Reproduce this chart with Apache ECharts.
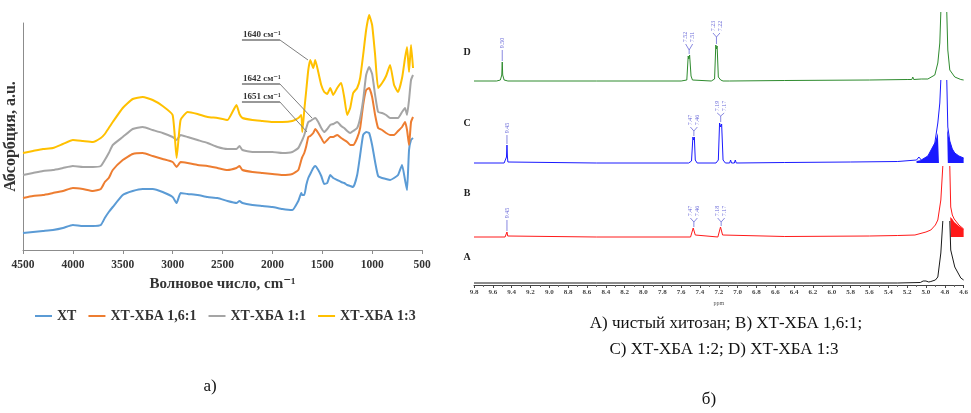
<!DOCTYPE html>
<html lang="ru">
<head>
<meta charset="utf-8">
<title>ИК и ЯМР спектры</title>
<script src="https://cdn.jsdelivr.net/npm/echarts@6.0.0/dist/echarts.min.js"></script>
<style>
  html, body { margin: 0; padding: 0; background: #fff; }
  #chart { width: 971px; height: 413px; }
</style>
</head>
<body>
<div id="chart"></div>
<script>
// а) ИК-спектры, волновое число (см-1) и поглощение (усл. ед.)
var wavenumbers = [4500, 4400, 4300, 4200, 4100, 4000, 3900, 3800, 3720, 3680, 3640, 3600,
  3500, 3400, 3300, 3200, 3100, 3000, 2960, 2920, 2850, 2750, 2650, 2550, 2450, 2360, 2330, 2300,
  2200, 2100, 2000, 1900, 1800, 1740, 1710, 1700, 1680, 1660, 1640, 1620, 1590, 1570, 1540, 1510,
  1480, 1450, 1420, 1390, 1350, 1310, 1280, 1250, 1220, 1190, 1150, 1120, 1090, 1060, 1030, 1000,
  970, 940, 900, 860, 820, 780, 740, 700, 670, 650, 630, 610, 590];
var irXT = [17, 18, 19, 20, 22, 25, 24, 24, 25, 32, 38, 43,
  55, 59, 61, 61, 58, 53, 47, 57, 56, 55, 53, 52, 49, 47, 49, 47,
  45, 44, 43, 41, 40, 49, 57, 55, 55, 65, 72, 76, 82, 84, 80, 74,
  66, 67, 75, 72, 70, 68, 67, 65, 64, 63, 75, 95, 115, 118, 117, 105,
  88, 74, 72, 71, 70, 72, 75, 85, 70, 60, 100, 110, 112];
var irXT161 = [52, 54, 55, 57, 59, 62, 61, 59, 61, 68, 72, 80,
  90, 96, 97, 94, 91, 88, 83, 88, 87, 85, 84, 82, 80, 82, 84, 80,
  78, 77, 76, 75, 76, 80, 90, 93, 97, 104, 113, 114, 117, 121, 117, 112,
  107, 110, 113, 113, 115, 112, 110, 108, 105, 105, 112, 122, 145, 160, 162, 153,
  135, 122, 120, 117, 115, 115, 119, 123, 128, 120, 105, 128, 133];
var irXT11 = [75, 77, 79, 80, 82, 84, 83, 83, 84, 90, 97, 105,
  113, 121, 123, 120, 117, 113, 110, 115, 113, 110, 107, 103, 101, 101, 104, 100,
  98, 98, 98, 97, 98, 102, 108, 110, 115, 122, 128, 129, 131, 132, 128, 122,
  118, 121, 125, 126, 128, 124, 122, 119, 117, 119, 122, 132, 150, 175, 183, 176,
  155, 138, 137, 135, 132, 132, 132, 138, 142, 135, 150, 170, 175];
var irXT13 = [97, 99, 101, 102, 106, 110, 109, 108, 112, 116, 122, 128,
  142, 151, 153, 150, 144, 135, 92, 130, 138, 136, 133, 132, 130, 145, 136, 132,
  130, 129, 128, 128, 129, 132, 135, 118, 140, 160, 180, 190, 182, 190, 178, 165,
  158, 156, 162, 155, 162, 167, 153, 135, 142, 157, 162, 172, 195, 220, 235, 225,
  195, 162, 167, 174, 185, 165, 158, 172, 192, 203, 178, 205, 182];
var irNames = ['ХТ', 'ХТ-ХБА 1,6:1', 'ХТ-ХБА 1:1', 'ХТ-ХБА 1:3'];
var irColors = ['#5b9bd5', '#ed7d31', '#a5a5a5', '#ffc000'];

// подписи полос: текст, начало подчёркивания, излом, конец выноски
var irNotes = [
  { text: '1640 см⁻¹', start: [2305, 210], knee: [1924, 210], end: [1643, 190] },
  { text: '1642 см⁻¹', start: [2305, 166], knee: [1924, 166], end: [1603, 132] },
  { text: '1651 см⁻¹', start: [2305, 148], knee: [1924, 148], end: [1653, 118] }
];

// б) 1H ЯМР: химический сдвиг (ppm) и интенсивность над базовой линией
var ppmA = [9.80, 8.50, 7.00, 6.00, 5.30, 5.06, 5.03, 5.015, 5.00, 4.97, 4.948, 4.90, 4.874, 4.842,
  4.821, 4.79, 4.747, 4.737, 4.694, 4.63, 4.60];
var intA = [0, 0, 0, 0, 0, 0.5, 2, 4, 2, 1, 1.5, 3, 6, 30, 62, null, 62, 33, 16, 5, 3];

var ppmB = [9.80, 9.47, 9.458, 9.45, 9.442, 9.43, 8.50, 7.50, 7.48, 7.472, 7.465, 7.458, 7.45, 7.43,
  7.21, 7.19, 7.182, 7.175, 7.168, 7.16, 7.14, 6.50, 5.60, 5.30, 5.117, 5.00, 4.948, 4.90, 4.874,
  4.842, 4.821, 4.79, 4.747, 4.737, 4.72, 4.70, 4.65, 4.60];
var intB = [0, 0, 1, 5, 1, 0, 0, 0, 1, 9, 7, 9, 2, 0,
  0, 1, 10, 8, 10, 2, 0, 0.5, 1, 1.5, 2, 5, 7, 12, 17,
  37, 71, null, 71, 30, 22, 18, 12, 8];
var ppmFillB = [4.742, 4.737, 4.72, 4.70, 4.65, 4.60];
var fillB = [20, 20, 18, 15, 11, 8];

var ppmC = [9.80, 9.48, 9.46, 9.455, 9.45, 9.445, 9.44, 9.42, 8.50, 7.52, 7.49, 7.475, 7.468, 7.46,
  7.45, 7.43, 7.23, 7.205, 7.192, 7.18, 7.17, 7.155, 7.13, 7.085, 7.075, 7.065, 7.035, 7.025, 7.015,
  6.50, 5.80, 5.30, 5.10, 5.075, 5.065, 5.05, 4.98, 4.906, 4.874, 4.853, 4.842, 4.81, 4.779, 4.768,
  4.747, 4.72, 4.694, 4.65, 4.60];
var intC = [0, 0, 1, 6, 18, 6, 1, 0, 0, 0, 2, 26, 23, 26,
  3, 0, 0, 3, 40, 36, 39, 3, 0, 0, 3, 0, 0, 3, 0,
  0.5, 1, 1.5, 3, 6, 5, 3, 7, 20, 40, 60, 83, null, 83, 36,
  22, 14, 10, 7, 5];
var ppmFillCL = [5.10, 5.05, 4.98, 4.906, 4.874, 4.862];
var fillCL = [2, 3, 7, 20, 30, 30];
var ppmFillCR = [4.775, 4.768, 4.747, 4.72, 4.694, 4.65, 4.60];
var fillCR = [34, 34, 22, 14, 10, 7, 5];

var ppmD = [9.80, 9.56, 9.52, 9.505, 9.50, 9.495, 9.48, 9.44, 8.50, 7.60, 7.54, 7.525, 7.518, 7.51,
  7.495, 7.48, 7.28, 7.245, 7.232, 7.225, 7.218, 7.205, 7.18, 7.155, 7.148, 7.14, 7.085, 7.078, 7.07,
  6.50, 5.60, 5.20, 5.15, 5.14, 5.13, 5.05, 4.98, 4.906, 4.874, 4.853, 4.842, 4.81, 4.779, 4.768,
  4.747, 4.694, 4.63, 4.60];
var intD = [0, 0, 1, 6, 19, 6, 1, 0, 0, 0, 1, 25, 22, 26,
  5, 1, 0, 2, 36, 32, 35, 4, 1, 0, 2, 0, 0, 2, 0,
  0.5, 1, 1.5, 1.5, 4, 1.5, 2, 2, 6, 18, 38, 69, null, 69, 31,
  11, 4, 1.5, 1];

var nmrOffsets = { A: 2, B: 48, C: 122, D: 204 };
var nmrColors = { A: '#1a1a1a', B: '#ff1a1a', C: '#1a1aff', D: '#2e8b2e' };

// подписи пиков: центр, тексты, высота пика, вершина скобки, центр подписи
var nmrLabels = [
  { spec: 'D', ppm: 9.50, texts: ['9.50'], peak: 19, label: 38 },
  { spec: 'D', ppm: 7.515, texts: ['7.52', '7.51'], peak: 26, tip: 31, label: 44 },
  { spec: 'D', ppm: 7.225, texts: ['7.23', '7.22'], peak: 36, tip: 44, label: 55 },
  { spec: 'C', ppm: 9.45, texts: ['9.45'], peak: 18, label: 35 },
  { spec: 'C', ppm: 7.465, texts: ['7.47', '7.46'], peak: 26, tip: 32, label: 43 },
  { spec: 'C', ppm: 7.18, texts: ['7.19', '7.17'], peak: 40, tip: 47, label: 57 },
  { spec: 'B', ppm: 9.45, texts: ['9.45'], peak: 5, label: 24 },
  { spec: 'B', ppm: 7.465, texts: ['7.47', '7.46'], peak: 9, tip: 15, label: 26 },
  { spec: 'B', ppm: 7.175, texts: ['7.18', '7.17'], peak: 10, tip: 15, label: 26 }
];

var serif = '"Liberation Serif", "DejaVu Serif", serif';

function pairs(xs, ys, off) {
  return xs.map(function (x, i) {
    return [x, ys[i] == null ? null : ys[i] + off];
  });
}

var irSeries = [irXT, irXT161, irXT11, irXT13].map(function (vals, i) {
  return {
    name: irNames[i],
    type: 'line',
    xAxisIndex: 0,
    yAxisIndex: 0,
    data: wavenumbers.map(function (w, j) { return [w, vals[j]]; }),
    showSymbol: false,
    smooth: 0.15,
    clip: false,
    color: irColors[i],
    lineStyle: { width: 2, color: irColors[i] }
  };
});

function nmrLine(key, xs, ys) {
  return {
    type: 'line', xAxisIndex: 1, yAxisIndex: 1,
    data: pairs(xs, ys, nmrOffsets[key]),
    showSymbol: false, connectNulls: false,
    lineStyle: { width: 1, color: nmrColors[key] },
    color: nmrColors[key], z: 3
  };
}
function nmrFill(key, xs, ys) {
  return {
    type: 'line', xAxisIndex: 1, yAxisIndex: 1,
    data: pairs(xs, ys, nmrOffsets[key]),
    showSymbol: false,
    lineStyle: { width: 0 },
    areaStyle: { color: nmrColors[key], opacity: 1, origin: nmrOffsets[key] },
    color: nmrColors[key], z: 2, silent: true
  };
}

var nmrSeries = [
  nmrLine('A', ppmA, intA),
  nmrFill('B', ppmFillB, fillB),
  nmrLine('B', ppmB, intB),
  nmrFill('C', ppmFillCL, fillCL),
  nmrFill('C', ppmFillCR, fillCR),
  nmrLine('C', ppmC, intC),
  nmrLine('D', ppmD, intD)
];

var chart = echarts.init(document.getElementById('chart'));

var option = {
  animation: false,
  backgroundColor: '#fff',
  grid: [
    { left: 23, top: 23, width: 399, height: 227 },
    { left: 474, top: 10, width: 492, height: 275 }
  ],
  legend: {
    data: irNames,
    left: 30,
    top: 304,
    icon: 'rect',
    itemWidth: 17,
    itemHeight: 2,
    itemGap: 12,
    textStyle: { fontFamily: serif, fontWeight: 'bold', fontSize: 14, color: '#333' }
  },
  xAxis: [
    {
      gridIndex: 0, type: 'value', inverse: true, min: 500, max: 4500, interval: 500,
      axisLine: { show: true, lineStyle: { color: '#8c8c8c', width: 1 } },
      axisTick: { show: true, length: 4, lineStyle: { color: '#8c8c8c' } },
      splitLine: { show: false },
      axisLabel: {
        fontFamily: serif, fontWeight: 'bold', fontSize: 11.5, color: '#333', margin: 9,
        formatter: function (v) { return String(v); }
      },
      name: 'Волновое число, cm⁻¹', nameLocation: 'middle', nameGap: 27,
      nameTextStyle: { fontFamily: serif, fontWeight: 'bold', fontSize: 15, color: '#333' }
    },
    {
      gridIndex: 1, type: 'value', inverse: true, min: 4.6, max: 9.8, interval: 0.2,
      axisLine: { show: true, lineStyle: { color: '#444', width: 1 } },
      axisTick: { show: true, length: 3, lineStyle: { color: '#444' } },
      minorTick: { show: true, splitNumber: 2, length: 2, lineStyle: { color: '#666' } },
      splitLine: { show: false },
      axisLabel: {
        fontFamily: serif, fontWeight: 'bold', fontSize: 7, color: '#444', margin: 4,
        formatter: function (v) { return v.toFixed(1); }
      },
      name: 'ppm', nameLocation: 'middle', nameGap: 14,
      nameTextStyle: { fontFamily: serif, fontSize: 6, color: '#555' }
    }
  ],
  yAxis: [
    {
      gridIndex: 0, type: 'value', min: 0, max: 227,
      axisLine: { show: true, lineStyle: { color: '#8c8c8c', width: 1 } },
      axisTick: { show: false }, axisLabel: { show: false }, splitLine: { show: false },
      name: 'Абсорбция, а.u.', nameLocation: 'middle', nameRotate: 90, nameGap: 4,
      nameTextStyle: { fontFamily: serif, fontWeight: 'bold', fontSize: 16, color: '#333' }
    },
    { gridIndex: 1, type: 'value', min: 0, max: 275, show: false }
  ],
  series: irSeries.concat(nmrSeries)
};

chart.setOption(option);

// подписи и выноски поверх осей
function pt(g, x, y) { return chart.convertToPixel({ gridIndex: g }, [x, y]); }
var gfx = [];

irNotes.forEach(function (n) {
  var a = pt(0, n.start[0], n.start[1]);
  var b = pt(0, n.knee[0], n.knee[1]);
  var c = pt(0, n.end[0], n.end[1]);
  gfx.push({ type: 'line', shape: { x1: a[0], y1: a[1], x2: b[0], y2: b[1] },
    style: { stroke: '#333', lineWidth: 1 }, z: 100 });
  gfx.push({ type: 'line', shape: { x1: b[0], y1: b[1], x2: c[0], y2: c[1] },
    style: { stroke: '#7f7f7f', lineWidth: 1 }, z: 100 });
  gfx.push({ type: 'text', x: a[0] + 1, y: a[1] - 1, z: 100,
    style: { text: n.text, font: 'bold 9px ' + serif, fill: '#333',
      textAlign: 'left', textVerticalAlign: 'bottom', align: 'left', verticalAlign: 'bottom' } });
});

var labelColor = '#6a6ad8';
nmrLabels.forEach(function (l) {
  var off = nmrOffsets[l.spec];
  var c = pt(1, l.ppm, off + l.label);
  var p = pt(1, l.ppm, off + l.peak);
  var half = 6;
  var xs = l.texts.length === 1 ? [c[0]] : [c[0] - 3.5, c[0] + 3.5];
  l.texts.forEach(function (t, i) {
    gfx.push({ type: 'text', x: xs[i], y: c[1], rotation: Math.PI / 2, z: 100,
      style: { text: t, font: '6px ' + serif, fill: labelColor,
        textAlign: 'center', textVerticalAlign: 'middle', align: 'center', verticalAlign: 'middle' } });
  });
  if (l.texts.length === 1) {
    gfx.push({ type: 'line', shape: { x1: c[0], y1: c[1] + half + 1, x2: c[0], y2: p[1] - 1 },
      style: { stroke: labelColor, lineWidth: 0.8 }, z: 100 });
  } else {
    var t = pt(1, l.ppm, off + l.tip);
    gfx.push({ type: 'polyline', z: 100,
      shape: { points: [[xs[0], c[1] + half + 1], [c[0], t[1]], [xs[1], c[1] + half + 1]] },
      style: { stroke: labelColor, lineWidth: 0.8, fill: null } });
    gfx.push({ type: 'line', shape: { x1: c[0], y1: t[1], x2: c[0], y2: p[1] - 1 },
      style: { stroke: labelColor, lineWidth: 0.8 }, z: 100 });
  }
});

[['D', 52], ['C', 123], ['B', 193], ['A', 257]].forEach(function (s) {
  gfx.push({ type: 'text', x: 467, y: s[1], z: 100,
    style: { text: s[0], font: 'bold 10px ' + serif, fill: '#222',
      textAlign: 'center', textVerticalAlign: 'middle', align: 'center', verticalAlign: 'middle' } });
});

var captions = [
  ['А) чистый хитозан; В) ХТ-ХБА 1,6:1;', 726, 324],
  ['С) ХТ-ХБА 1:2; D) ХТ-ХБА 1:3', 724, 350],
  ['а)', 210, 387],
  ['б)', 709, 400]
];
captions.forEach(function (c) {
  gfx.push({ type: 'text', x: c[1], y: c[2], z: 100,
    style: { text: c[0], font: '17px ' + serif, fill: '#111',
      textAlign: 'center', textVerticalAlign: 'middle', align: 'center', verticalAlign: 'middle' } });
});

chart.setOption({ graphic: gfx });
</script>
</body>
</html>
